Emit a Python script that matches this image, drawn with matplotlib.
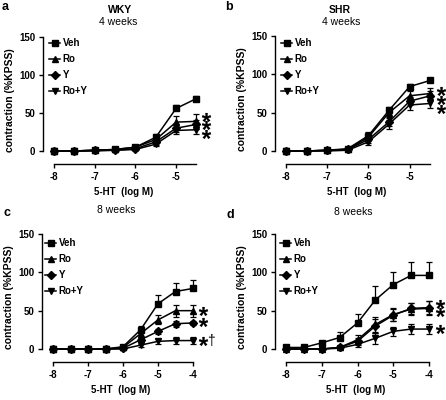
"""Four-panel 5-HT concentration-response curves (WKY / SHR, 4 and 8 weeks)."""

import matplotlib

matplotlib.use("Agg")
import matplotlib.pyplot as plt

plt.rcParams["font.family"] = ["Liberation Sans", "DejaVu Sans"]
plt.rcParams["mathtext.fontset"] = "custom"
plt.rcParams["mathtext.rm"] = "Liberation Sans"
plt.rcParams["mathtext.bf"] = "Liberation Sans:bold"

W, H = 446, 400

# ---- data -------------------------------------------------------------
labels = ["Veh", "Ro", "Y", "Ro+Y"]
markers = ["s", "^", "D", "v"]
msizes = [4.6, 5.0, 4.0, 5.0]

x_4wk = [-8, -7.5, -7, -6.5, -6, -5.5, -5, -4.5]
x_8wk = [-8, -7.5, -7, -6.5, -6, -5.5, -5, -4.5, -4]

# panel a: WKY 4 weeks
a_mean = [
    [0, 0, 1, 2, 5, 18, 56, 69],
    [0, 0, 1, 2, 5, 15, 38, 39],
    [0, 0, 1, 1, 3, 12, 30, 35],
    [0, 0, 0, 1, 2, 9, 27, 28],
]
a_err = [
    [1, 1, 1, 1, 2, 4, 5, 3],
    [1, 1, 1, 1, 2, 5, 8, 10],
    [1, 1, 1, 1, 2, 4, 5, 6],
    [1, 1, 1, 1, 1, 3, 5, 5],
]
a_stars = [45, 34, 23]

# panel b: SHR 4 weeks
b_mean = [
    [0, 0, 1, 3, 20, 53, 84, 92],
    [0, 0, 1, 2, 18, 50, 72, 75],
    [0, 0, 1, 2, 15, 38, 65, 72],
    [0, 0, 0, 1, 12, 35, 60, 62],
]
b_err = [
    [1, 1, 1, 2, 5, 5, 3, 3],
    [1, 1, 1, 2, 5, 6, 6, 7],
    [1, 1, 1, 2, 4, 5, 5, 6],
    [1, 1, 1, 1, 4, 6, 6, 6],
]
b_stars = [78, 67, 55]

# panel c: 8 weeks
c_mean = [
    [0, 0, 0, 0, 3, 25, 59, 75, 79],
    [0, 0, 0, 0, 2, 20, 38, 50, 50],
    [0, 0, 0, 0, 1, 12, 23, 33, 34],
    [0, 0, 0, 0, 0, 5, 10, 11, 11],
]
c_err = [
    [1, 1, 1, 1, 2, 5, 11, 11, 11],
    [1, 1, 1, 1, 2, 5, 6, 8, 8],
    [1, 1, 1, 1, 1, 3, 3, 4, 3],
    [1, 1, 1, 1, 1, 2, 3, 5, 5],
]
c_stars = [50, 35, 11]

# panel d: 8 weeks
d_mean = [
    [2, 2, 8, 15, 34, 64, 84, 96, 96],
    [0, 0, 0, 2, 12, 32, 45, 52, 53],
    [0, 0, 0, 2, 10, 30, 44, 53, 54],
    [0, 0, 0, 1, 6, 14, 23, 26, 26],
]
d_err = [
    [1, 2, 3, 7, 12, 18, 17, 17, 17],
    [1, 1, 1, 2, 6, 10, 9, 8, 9],
    [1, 1, 1, 2, 5, 9, 8, 7, 8],
    [1, 1, 1, 2, 4, 7, 6, 7, 7],
]
d_stars = [59, 48, 26]

fig = plt.figure(figsize=(W / 100, H / 100), dpi=100)


def px_axes(x8, k, y0, y150, xmax):
    """Create an axes from pixel positions of x=-8, px/unit, y=0 and y=150."""
    ky = (y0 - y150) / 150.0
    xlo = -8 - 11.0 / k
    ylo = -13.0 / ky
    yhi = 152
    left = x8 - 11.0
    right = x8 + (xmax + 8) * k
    top = y150 - (yhi - 150) * ky
    bottom = y0 - ylo * ky
    ax = fig.add_axes([left / W, 1 - bottom / H, (right - left) / W,
                       (bottom - top) / H])
    ax.set_xlim(xlo, xmax)
    ax.set_ylim(ylo, yhi)
    return ax


def draw(ax, xs, means, errs, stars, star_x, dagger=False, leg_xy=(0, 0)):
    for i in range(4):
        lo = [0] * len(xs) if i == 0 else errs[i]
        ax.errorbar(xs, means[i], yerr=[lo, errs[i]], color="black",
                    marker=markers[i], ms=msizes[i], lw=1.1, elinewidth=0.9,
                    capsize=2.3, capthick=0.9, label=labels[i],
                    clip_on=False, zorder=3)
    ax.plot([star_x] * len(stars), stars, ls="none",
            marker=r"$\mathbf{*}$", ms=6.8, mew=0, color="black",
            clip_on=False)
    if dagger:
        ax.text(star_x + 0.22, stars[-1], "\u2020", ha="center",
                va="center", fontsize=10, clip_on=False)

    ax.spines["top"].set_visible(False)
    ax.spines["right"].set_visible(False)
    ax.spines["left"].set_bounds(0, 150)
    ax.spines["bottom"].set_bounds(-8, xs[-1])
    for sp in ("left", "bottom"):
        ax.spines[sp].set_linewidth(1.0)
    ax.set_yticks([0, 50, 100, 150])
    ticks = [-8, -7, -6, -5] if xs[-1] == -4.5 else [-8, -7, -6, -5, -4]
    ax.set_xticks(ticks)
    ax.set_xticklabels([str(t) for t in ticks])
    ax.tick_params(direction="out", length=3, width=1.0, labelsize=7,
                   pad=2.5)
    for lab in ax.get_xticklabels() + ax.get_yticklabels():
        lab.set_fontweight("bold")
    ax.set_ylabel("contraction (%KPSS)", fontsize=7.5, fontweight="bold",
                  labelpad=3)
    ax.set_xlabel("5-HT  (log M)", fontsize=7, fontweight="bold",
                  labelpad=4)

    handles, labs = ax.get_legend_handles_labels()
    handles = [h[0] for h in handles]
    leg = ax.legend(handles, labs, loc="upper left",
                    bbox_to_anchor=(leg_xy[0] / W, 1 - leg_xy[1] / H),
                    bbox_transform=fig.transFigure, frameon=False,
                    borderpad=0, borderaxespad=0, handlelength=1.15,
                    handletextpad=0.25, labelspacing=0.62, fontsize=7)
    for t in leg.get_texts():
        t.set_fontweight("bold")


ax_a = px_axes(54, 40.7, 151, 37, -4.3)
draw(ax_a, x_4wk, a_mean, a_err, a_stars, -4.27, leg_xy=(49, 38))
ax_b = px_axes(286, 41.2, 151, 36, -4.3)
draw(ax_b, x_4wk, b_mean, b_err, b_stars, -4.25, leg_xy=(281, 38))
ax_c = px_axes(53, 35.0, 349, 234, -3.8)
draw(ax_c, x_8wk, c_mean, c_err, c_stars, -3.72, dagger=True,
     leg_xy=(45, 238))
ax_d = px_axes(286, 35.75, 349, 234, -3.8)
draw(ax_d, x_8wk, d_mean, d_err, d_stars, -3.69, leg_xy=(280, 238))


def ftext(x, y, s, **kw):
    fig.text(x / W, 1 - y / H, s, ha="center", va="center", **kw)


ftext(5, 7, "a", fontsize=9, fontweight="bold")
ftext(120, 10, "WKY", fontsize=7.5, fontweight="bold")
ftext(118, 22, "4 weeks", fontsize=7.5)
ftext(229, 7, "b", fontsize=9, fontweight="bold")
ftext(340, 10, "SHR", fontsize=7.5, fontweight="bold")
ftext(341, 22, "4 weeks", fontsize=7.5)
ftext(7, 213, "c", fontsize=9, fontweight="bold")
ftext(116, 210, "8 weeks", fontsize=7.5)
ftext(230, 215, "d", fontsize=9, fontweight="bold")
ftext(353, 212, "8 weeks", fontsize=7.5)

fig.savefig("out.png", dpi=100)
